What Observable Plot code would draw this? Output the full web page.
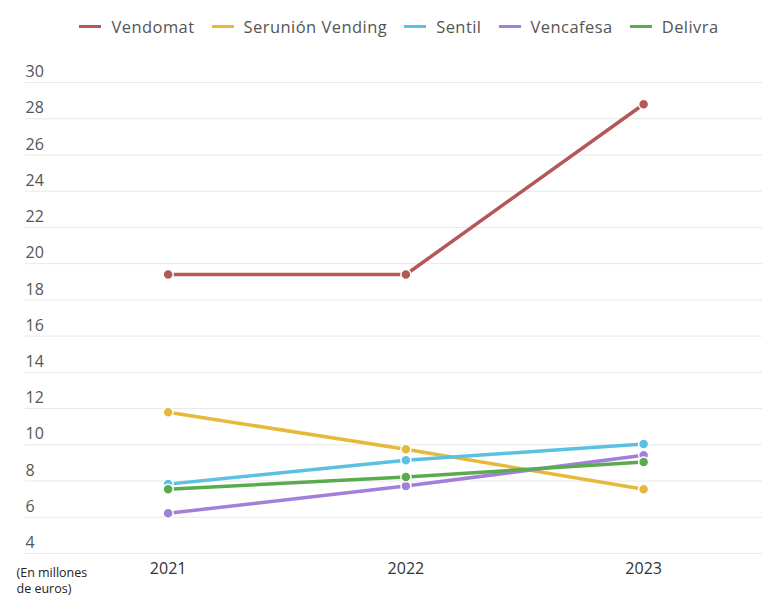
<!DOCTYPE html>
<html>
<head>
<meta charset="utf-8">
<script src="https://cdn.jsdelivr.net/npm/d3@7"></script>
<script src="https://cdn.jsdelivr.net/npm/@observablehq/plot@0.6"></script>
<style>
  html, body { margin: 0; padding: 0; background: #fff; }
  body { width: 779px; height: 605px; overflow: hidden; font-family: "Open Sans", sans-serif; }
  #legend { height: 50px; display: flex; justify-content: center; align-items: center; padding-left: 36px; padding-top: 3px; box-sizing: border-box; }
  .item { display: flex; align-items: center; margin-right: 17px; font-size: 16.5px; color: #555; letter-spacing: 0.45px; }
  .sw { width: 22px; height: 3px; margin-right: 10px; }
</style>
</head>
<body>
<div id="legend"></div>
<div id="chart"></div>
<script>
const years = [2021, 2022, 2023];
const companies = ["Vendomat", "Serunión Vending", "Sentil", "Vencafesa", "Delivra"];
const colors = ["#b45857", "#e6b93a", "#5bc1e0", "#a27fd9", "#5aaa4e"];
const vendomat = [19.4, 19.4, 28.8];
const serunion = [11.8, 9.75, 7.55];
const sentil = [7.83, 9.15, 10.05];
const vencafesa = [6.22, 7.72, 9.42];
const delivra = [7.55, 8.22, 9.05];
const yTicks = [4, 6, 8, 10, 12, 14, 16, 18, 20, 22, 24, 26, 28, 30];
const caption = "(En millones\nde euros)";

const seriesValues = [vendomat, serunion, sentil, vencafesa, delivra];
const data = [];
companies.forEach((c, i) => years.forEach((y, j) => data.push({company: c, year: y, value: seriesValues[i][j]})));

// legend
const leg = document.getElementById("legend");
companies.forEach((c, i) => {
  const it = document.createElement("div");
  it.className = "item";
  const sw = document.createElement("div");
  sw.className = "sw";
  sw.style.background = colors[i];
  const t = document.createElement("span");
  t.textContent = c;
  it.appendChild(sw); it.appendChild(t);
  leg.appendChild(it);
});

const chart = Plot.plot({
  width: 779,
  height: 555,
  marginTop: 32,
  marginBottom: 52,
  marginLeft: 25,
  marginRight: 17,
  style: {fontFamily: "Open Sans, sans-serif", background: "#fff"},
  x: {domain: [2020.4, 2023.5], axis: null},
  y: {domain: [4, 30], axis: null},
  color: {domain: companies, range: colors},
  marks: [
    Plot.ruleY(yTicks, {stroke: "#e8e8e8", strokeWidth: 1}),
    Plot.text(yTicks, {y: d => d, text: d => String(d), frameAnchor: "left", textAnchor: "start", dy: -10.5, fontSize: 16, fill: "#555"}),
    Plot.text(years, {x: d => d, text: d => String(d), frameAnchor: "bottom", dy: 20, fontSize: 16, fill: "#333"}),
    Plot.line(data, {x: "year", y: "value", z: "company", stroke: "company", strokeWidth: 3.5}),
    Plot.dot(data, {x: "year", y: "value", fill: "company", r: 5, stroke: "#fff", strokeWidth: 1.5}),
    Plot.text([caption], {text: d => d, frameAnchor: "bottom-left", textAnchor: "start", dx: -9, dy: 39, fontSize: 12.5, fill: "#222", lineHeight: 1.25})
  ]
});
document.getElementById("chart").appendChild(chart);
</script>
</body>
</html>
